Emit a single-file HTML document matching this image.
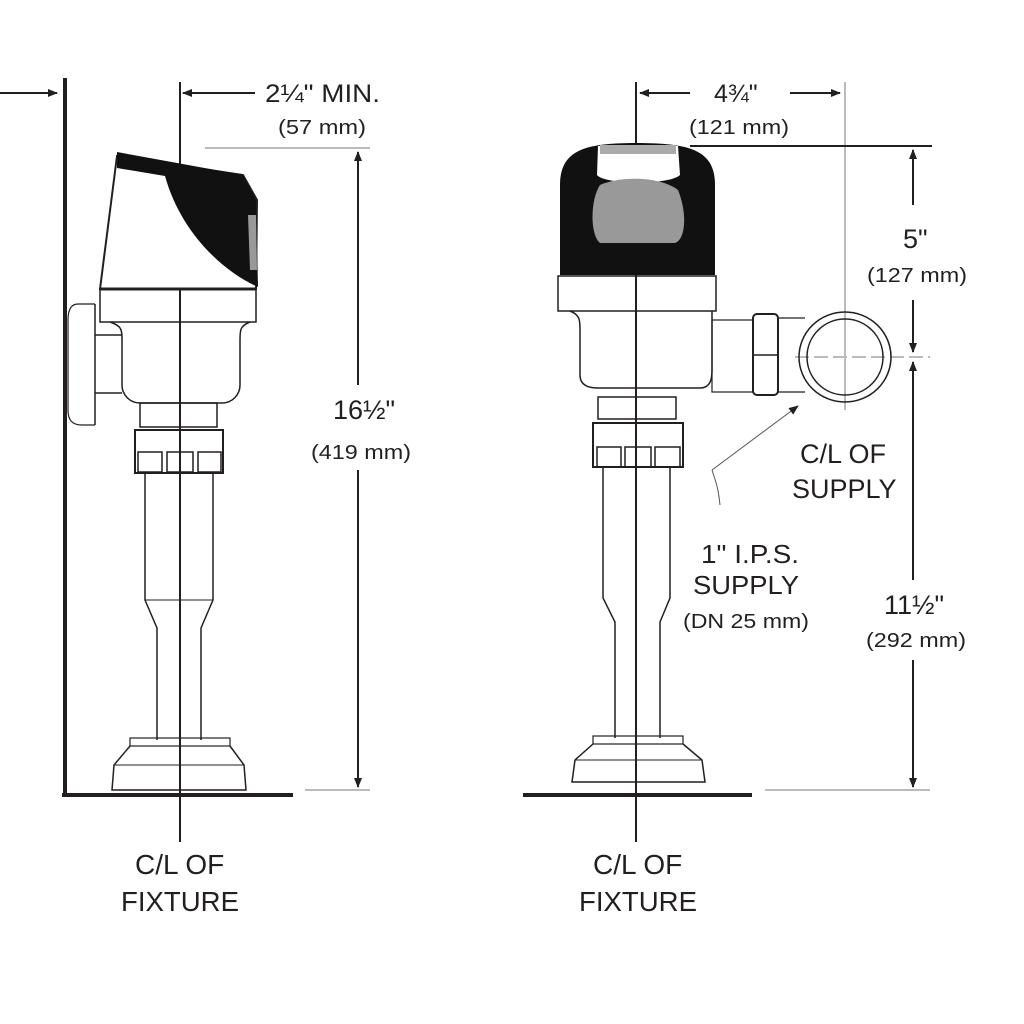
<!DOCTYPE html>
<html><head><style>
html,body{margin:0;padding:0;background:#fff;width:1024px;height:1024px;overflow:hidden}
svg{display:block}
text{font-family:"Liberation Sans",Arial,sans-serif;fill:#231f20}
</style></head><body>
<svg width="1024" height="1024" viewBox="0 0 1024 1024" xmlns="http://www.w3.org/2000/svg">
<defs>
<marker id="a" markerWidth="10" markerHeight="10" refX="9" refY="5" orient="auto" markerUnits="userSpaceOnUse">
<path d="M0,1 L10,5 L0,9 Z" fill="#231f20"/></marker>
</defs>
<g fill="none" stroke="#231f20" stroke-width="2">
<line x1="65" y1="78" x2="65" y2="797" stroke-width="4"/>
<line x1="62" y1="795" x2="293" y2="795" stroke-width="4"/>
<line x1="0" y1="93" x2="57" y2="93" marker-end="url(#a)"/>
<line x1="180" y1="82" x2="180" y2="842"/>
<line x1="255" y1="93" x2="183" y2="93" marker-end="url(#a)"/>
<line x1="205" y1="148" x2="370" y2="148" stroke="#bbb"/>
<line x1="305" y1="790" x2="370" y2="790" stroke="#bbb"/>
<line x1="358" y1="385" x2="358" y2="152" marker-end="url(#a)"/>
<line x1="358" y1="470" x2="358" y2="787" marker-end="url(#a)"/>
<path d="M117,156 L100,289 L256,289 L257,200 L243,175 Z" fill="#fff"/>
<path d="M117,152 L243,175 L256,200 L258,287 C220,270 180,230 165,176 L117,168 Z" fill="#111" stroke="none"/>
<path d="M248,215 L256,215 L257,270 L250,270 Z" fill="#999" stroke="none"/>
<rect x="100" y="289" width="156" height="33" stroke-width="1.5"/>
<line x1="100" y1="289" x2="256" y2="289" stroke-width="3"/>
<path d="M110,322 C122,326 122,330 122,340 L122,385 C122,395 130,403 140,403 L222,403 C232,403 240,395 240,385 L240,340 C240,330 240,326 250,322" stroke-width="1.5"/>
<path d="M95,304 L78,304 C70,304 68,312 68,320 L68,410 C68,420 72,425 82,425 L95,425" stroke-width="1.2"/>
<path d="M95,335 L122,335 M95,393 L122,393 M95,304 L95,425" stroke-width="1.5"/>
<rect x="140" y="403" width="77" height="24" stroke-width="1.5"/>
<rect x="135" y="430" width="88" height="43" stroke-width="2"/>
<rect x="138" y="452" width="24" height="20" stroke-width="1.5"/><rect x="167" y="452" width="26" height="20" stroke-width="1.5"/><rect x="198" y="452" width="23" height="20" stroke-width="1.5"/>
<path d="M145,473 L145,600 L157,628 L157,740 M213,473 L213,600 L201,628 L201,740" stroke-width="1.5"/>
<line x1="145" y1="600" x2="213" y2="600" stroke-width="1"/>
<rect x="130" y="738" width="100" height="8" stroke-width="1.2"/>
<path d="M130,746 L114,765 L112,790 L246,790 L244,765 L230,746" stroke-width="1.5"/>
<line x1="114" y1="765" x2="244" y2="765" stroke-width="1"/>
<line x1="523" y1="795" x2="752" y2="795" stroke-width="4"/>
<line x1="636" y1="82" x2="636" y2="842"/>
<line x1="690" y1="93" x2="640" y2="93" marker-end="url(#a)"/>
<line x1="790" y1="93" x2="840" y2="93" marker-end="url(#a)"/>
<line x1="845" y1="82" x2="845" y2="410" stroke="#bbb"/>
<line x1="690" y1="146" x2="932" y2="146"/>
<line x1="765" y1="790" x2="930" y2="790" stroke="#bbb"/>
<line x1="795" y1="357" x2="930" y2="357" stroke="#bbb" stroke-dasharray="14,5"/>
<line x1="913" y1="205" x2="913" y2="150" marker-end="url(#a)"/>
<line x1="913" y1="300" x2="913" y2="352" marker-end="url(#a)"/>
<line x1="913" y1="580" x2="913" y2="362" marker-end="url(#a)"/>
<line x1="913" y1="660" x2="913" y2="787" marker-end="url(#a)"/>
<path d="M560,275 L560,185 C560,150 585,143 636,143 C690,143 715,150 715,185 L715,275 Z" fill="#111" stroke="none"/>
<path d="M598,146 L678,146 L680,175 C670,185 605,185 597,175 Z" fill="#fff" stroke="none"/>
<rect x="600" y="145" width="76" height="9" fill="#aaa" stroke="none"/>
<path d="M600,185 C620,176 660,176 678,190 C688,215 685,240 675,243 L600,243 C590,235 590,200 600,185 Z" fill="#999" stroke="none"/>
<rect x="558" y="276" width="158" height="35" stroke-width="1.5"/>
<path d="M570,311 C580,315 580,320 580,330 L580,375 C580,385 588,388 598,388 L700,388 C710,388 712,380 712,370 L712,311" stroke-width="1.5"/>
<rect x="598" y="397" width="78" height="22" stroke-width="1.5"/>
<rect x="593" y="423" width="90" height="44" stroke-width="2"/>
<rect x="597" y="447" width="24" height="20" stroke-width="1.5"/><rect x="625" y="447" width="26" height="20" stroke-width="1.5"/><rect x="655" y="447" width="25" height="20" stroke-width="1.5"/>
<path d="M603,467 L603,598 L615,622 L615,738 M670,467 L670,598 L660,622 L660,738" stroke-width="1.5"/>
<rect x="593" y="736" width="90" height="8" stroke-width="1.2"/>
<path d="M593,744 L575,760 L572,782 L705,782 L702,760 L683,744" stroke-width="1.5"/>
<line x1="575" y1="760" x2="702" y2="760" stroke-width="1"/>
<rect x="712" y="320" width="41" height="72" stroke-width="1.2"/>
<rect x="753" y="314" width="25" height="81" rx="4" stroke-width="2"/>
<line x1="753" y1="355" x2="778" y2="355" stroke-width="1.5"/>
<path d="M778,318 L805,318 M778,392 L805,392" stroke-width="1.2"/>
<ellipse cx="845" cy="357" rx="46" ry="45" stroke-width="1.5"/>
<ellipse cx="845" cy="357" rx="38" ry="38" stroke-width="1.5"/>
<path d="M712,470 C715,480 718,485 720,505" stroke="#555" stroke-width="1"/>
<line x1="712" y1="470" x2="798" y2="406" stroke="#555" stroke-width="1" marker-end="url(#a)"/>
</g>
<g>
<text x="265" y="102" font-size="25" textLength="115" lengthAdjust="spacingAndGlyphs">2¼" MIN.</text>
<text x="278" y="134" font-size="20" textLength="88" lengthAdjust="spacingAndGlyphs">(57 mm)</text>
<text x="333" y="419" font-size="27">16½"</text>
<text x="311" y="459" font-size="20" textLength="100" lengthAdjust="spacingAndGlyphs">(419 mm)</text>
<text x="714" y="102" font-size="25">4¾"</text>
<text x="689" y="134" font-size="20" textLength="100" lengthAdjust="spacingAndGlyphs">(121 mm)</text>
<text x="903" y="248" font-size="27">5"</text>
<text x="867" y="282" font-size="20" textLength="100" lengthAdjust="spacingAndGlyphs">(127 mm)</text>
<text x="884" y="614" font-size="27">11½"</text>
<text x="866" y="647" font-size="20" textLength="100" lengthAdjust="spacingAndGlyphs">(292 mm)</text>
<text x="800" y="463" font-size="27">C/L OF</text>
<text x="792" y="498" font-size="27">SUPPLY</text>
<text x="701" y="563" font-size="26" textLength="98" lengthAdjust="spacingAndGlyphs">1" I.P.S.</text>
<text x="693" y="594" font-size="26" textLength="106" lengthAdjust="spacingAndGlyphs">SUPPLY</text>
<text x="683" y="628" font-size="20" textLength="126" lengthAdjust="spacingAndGlyphs">(DN 25 mm)</text>
<text x="135" y="874" font-size="28">C/L OF</text>
<text x="121" y="911" font-size="28" textLength="118" lengthAdjust="spacingAndGlyphs">FIXTURE</text>
<text x="593" y="874" font-size="28">C/L OF</text>
<text x="579" y="911" font-size="28" textLength="118" lengthAdjust="spacingAndGlyphs">FIXTURE</text>
</g>
</svg>
</body></html>
